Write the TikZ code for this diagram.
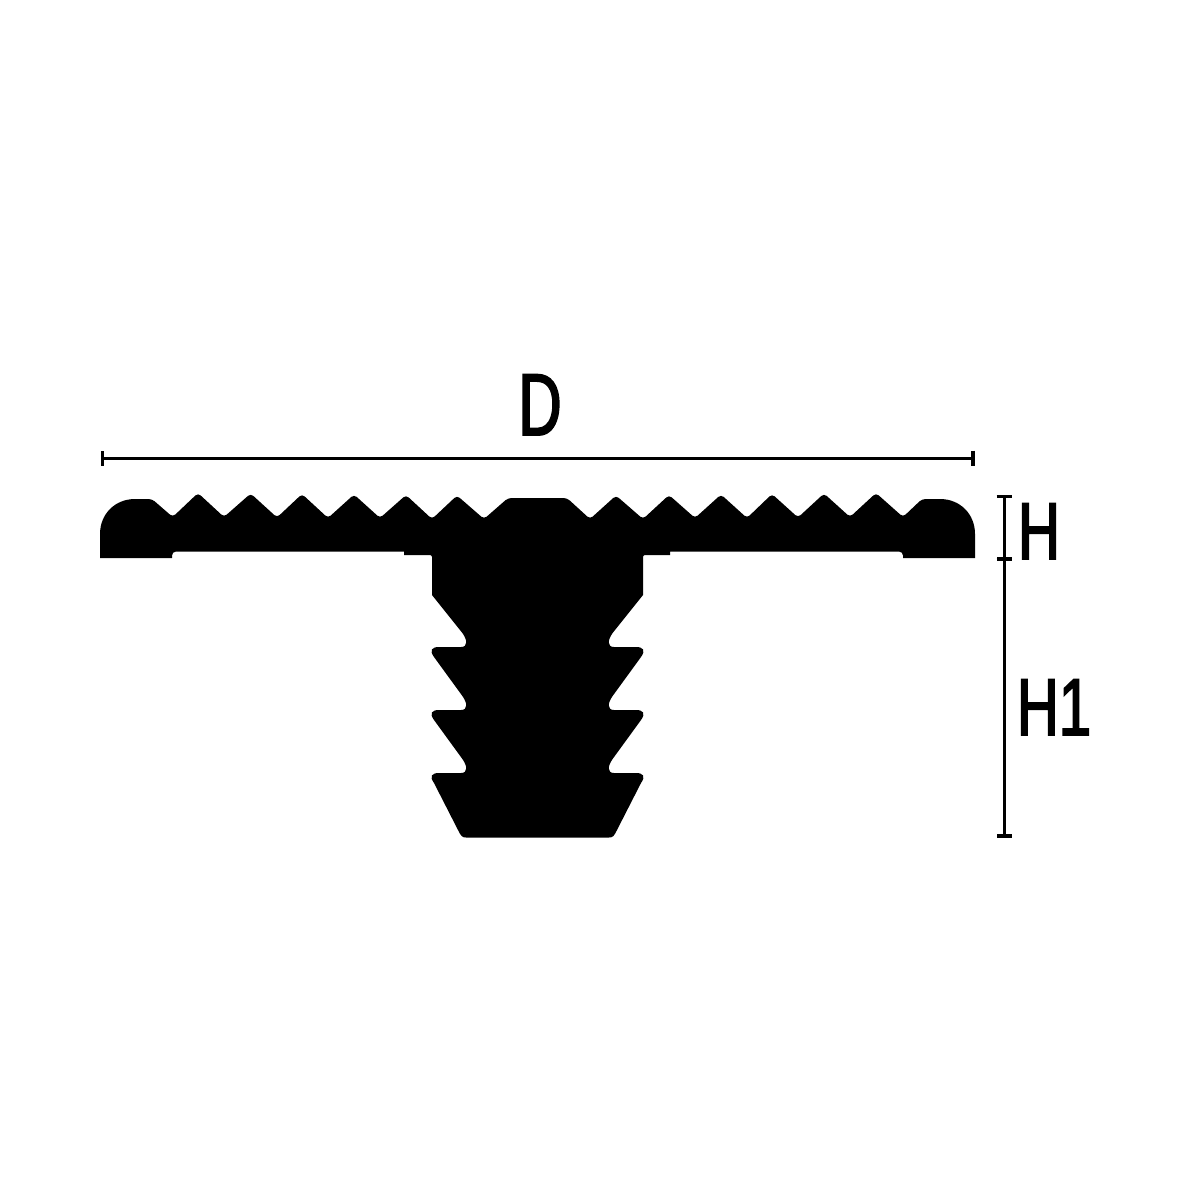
\documentclass[tikz,border=0pt]{standalone}
\usepackage{fontspec}
\usetikzlibrary{arrows.meta}
\newfontfamily\dimfont[FakeStretch=0.72,FakeBold=2]{Liberation Sans}
\newfontfamily\dimfontD[FakeStretch=0.68,FakeBold=2]{Liberation Sans}
\tikzset{
  dimline/.style={line width=0.03cm, {Bar[width=0.15cm,line width=0.035cm]}-{Bar[width=0.15cm,line width=0.035cm]}, shorten >=-0.015cm, shorten <=-0.015cm},
  dimlabel/.style={anchor=base, inner sep=0pt, text=black, font=\dimfont\fontsize{23}{23}\selectfont}
}
\begin{document}
\begin{tikzpicture}[x=0.01cm, y=-0.01cm]
  \useasboundingbox (0,0) rectangle (1200,1200);

  % profile
  \fill[black]
    (100,558) -- (100,534) .. controls (100,514) and (115,499) .. (135,499)
    [rounded corners=0.035cm] -- (152,499) -- (172.7,517) -- (198,493) -- (224,517) -- (250.7,493.5) -- (277,517.5)
    -- (302,494) -- (328,518) -- (354,494.5) -- (380,518) -- (406,495) -- (432,519)
    -- (457,495.5) -- (484,519) -- (508,498) -- (567,498) -- (590,519) -- (616,495.5)
    -- (643,519) -- (669,495) -- (695,518) -- (721,494.5) -- (747,518) -- (772,494)
    -- (798,517.5) -- (824,493.5) -- (850,517) -- (876,493) -- (903,517) -- (922,499)
    [sharp corners] -- (940,499) .. controls (960,499) and (975,514) .. (975,534)
    -- (975,558) -- (903,558) [rounded corners=0.04cm] -- (903,551.5) [sharp corners]
    -- (670,551.5) -- (670,555) [rounded corners=0.02cm] -- (643,555) [sharp corners] -- (643,595)
    \foreach \y in {647,710,773} {
      -- (612.6,\y-14) .. controls (607.6,\y-7) and (607,\y) .. (614,\y)
      -- (636,\y) .. controls (643,\y) and (646,\y+3) .. (641,\y+10)
    }
    -- (617,830) .. controls (614,836) and (613,837.5) .. (609,837.5)
    -- (466,837.5) .. controls (462,837.5) and (461,836) .. (458,830)
    \foreach \y in {773,710,647} {
      -- (434,\y+10) .. controls (429,\y+3) and (432,\y) .. (439,\y)
      -- (461,\y) .. controls (468,\y) and (467.4,\y-7) .. (462.4,\y-14)
    }
    -- (432,595) [rounded corners=0.02cm] -- (432,555) [sharp corners] -- (404,555) -- (404,551.5)
    [rounded corners=0.04cm] -- (172,551.5) [sharp corners] -- (172,558) -- cycle;

  % dimensions
  \coordinate (Dleft) at (102,458);
  \coordinate (Dright) at (973,458);
  \coordinate (Htop) at (1004,496);
  \coordinate (Hbot) at (1004,559);
  \coordinate (Hend) at (1004,836);
  \draw[dimline] (Dleft) -- (Dright);
  \draw[dimline] (Htop) -- (Hbot);
  \draw[dimline] (Hbot) -- (Hend);

  \node[dimlabel, font=\dimfontD\fontsize{25}{25}\selectfont] (D) at (540,435) {D};
  \node[dimlabel] (H) at (1039,559) {H};
  \node[dimlabel] (Hone) at (1054,735) {H1};
\end{tikzpicture}
\end{document}
